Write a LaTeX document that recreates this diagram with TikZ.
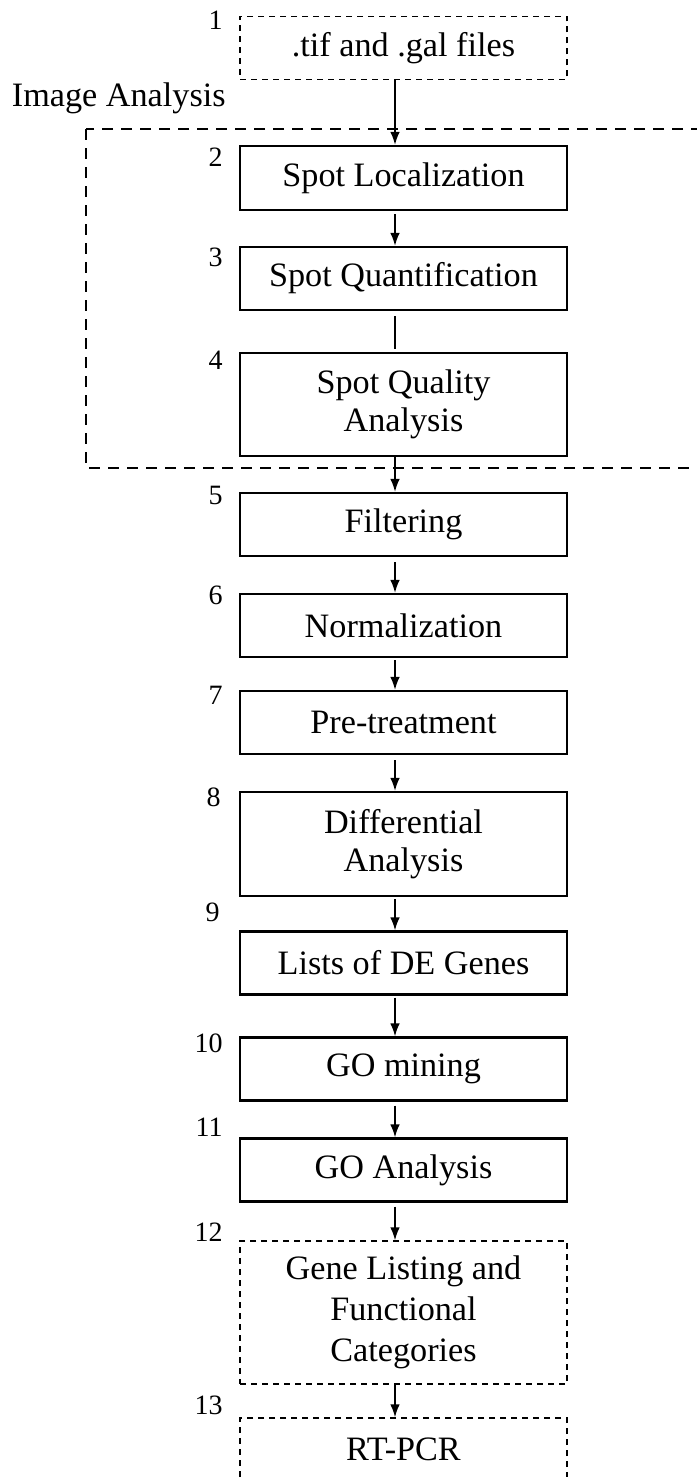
\documentclass[tikz,border=0pt]{standalone}
\usepackage{fontspec}
\setmainfont{Liberation Serif}
\usetikzlibrary{arrows.meta}

\begin{document}
\begin{tikzpicture}[x=0.5pt, y=-0.5pt,
  stagebox/.style={draw, line width=1.15pt, minimum width=163.5pt, minimum height=31.5pt,
    inner sep=0pt, align=center, font=\fontsize{17.1}{19}\selectfont},
  extbox/.style={stagebox, line width=0.7pt, dash pattern=on 3pt off 2.5pt},
  num/.style={anchor=east, inner sep=0pt, font=\fontsize{14}{16}\selectfont},
  flow/.style={line width=0.8pt, -{Latex[length=6.5pt,width=4.8pt]}},
  region/.style={line width=1.3pt, dash pattern=on 5.5pt off 4pt}]
\useasboundingbox (0,0) rectangle (696,1477);

% image analysis block
\draw[region] (86,129) rectangle (720,468);
\node[anchor=base east, inner sep=0pt, font=\fontsize{17.1}{19}\selectfont] (imgan) at (226,106) {Image Analysis};

\node[extbox] (s1) at (403.5,48) {.tif and .gal files};
\node[stagebox, minimum height=32pt] (s2) at (403.5,178) {Spot Localization};
\node[stagebox] (s3) at (403.5,278.5) {Spot Quantification};
\node[stagebox, minimum height=51.5pt] (s4) at (403.5,404.5) {Spot Quality\\Analysis};
\node[stagebox] (s5) at (403.5,524.5) {Filtering};
\node[stagebox] (s6) at (403.5,625.5) {Normalization};
\node[stagebox] (s7) at (403.5,722.5) {Pre-treatment};
\node[stagebox, minimum height=52pt] (s8) at (403.5,844) {Differential\\Analysis};
\node[stagebox] (s9) at (403.5,963) {Lists of DE Genes};
\node[stagebox] (s10) at (403.5,1069) {GO mining};
\node[stagebox] (s11) at (403.5,1170) {GO Analysis};
\node[extbox, minimum height=71.5pt, font=\fontsize{17.1}{20.5}\selectfont] (s12) at (403.5,1312.5) {Gene Listing and\\Functional\\Categories};
\node[extbox] (s13) at (403.5,1449.5) {RT-PCR};

% step numbers
\node[num] (n1) at (223,20) {1};
\node[num] (n2) at (223,157) {2};
\node[num] (n3) at (223,257) {3};
\node[num] (n4) at (223,360) {4};
\node[num] (n5) at (223,495) {5};
\node[num] (n6) at (223,595) {6};
\node[num] (n7) at (223,695) {7};
\node[num] (n8) at (221,797) {8};
\node[num] (n9) at (220,912) {9};
\node[num] (n10) at (223,1043) {10};
\node[num] (n11) at (223,1127) {11};
\node[num] (n12) at (223,1232) {12};
\node[num] (n13) at (223,1405) {13};

\draw[flow] ([xshift=-4.25pt]s1.south) -- ([xshift=-4.25pt]s2.north);
\draw[flow] ([xshift=-4.25pt,yshift=-1.5pt]s2.south) -- ([xshift=-4.25pt]s3.north);
\draw[line width=0.8pt] ([xshift=-4.25pt,yshift=-2.5pt]s3.south) -- ([xshift=-4.25pt,yshift=1.5pt]s4.north);
\draw[flow] ([xshift=-4.25pt]s4.south) -- ([xshift=-4.25pt]s5.north);
\draw[flow] ([xshift=-4.25pt,yshift=-2.5pt]s5.south) -- ([xshift=-4.25pt]s6.north);
\draw[flow] ([xshift=-4.25pt,yshift=-1pt]s6.south) -- ([xshift=-4.25pt]s7.north);
\draw[flow] ([xshift=-4.25pt,yshift=-2.5pt]s7.south) -- ([xshift=-4.25pt]s8.north);
\draw[flow] ([xshift=-4.25pt,yshift=-1pt]s8.south) -- ([xshift=-4.25pt]s9.north);
\draw[flow] ([xshift=-4.25pt,yshift=-1pt]s9.south) -- ([xshift=-4.25pt]s10.north);
\draw[flow] ([xshift=-4.25pt,yshift=-2pt]s10.south) -- ([xshift=-4.25pt]s11.north);
\draw[flow] ([xshift=-4.25pt,yshift=-2pt]s11.south) -- ([xshift=-4.25pt]s12.north);
\draw[flow] ([xshift=-4.25pt]s12.south) -- ([xshift=-4.25pt]s13.north);
\end{tikzpicture}
\end{document}
